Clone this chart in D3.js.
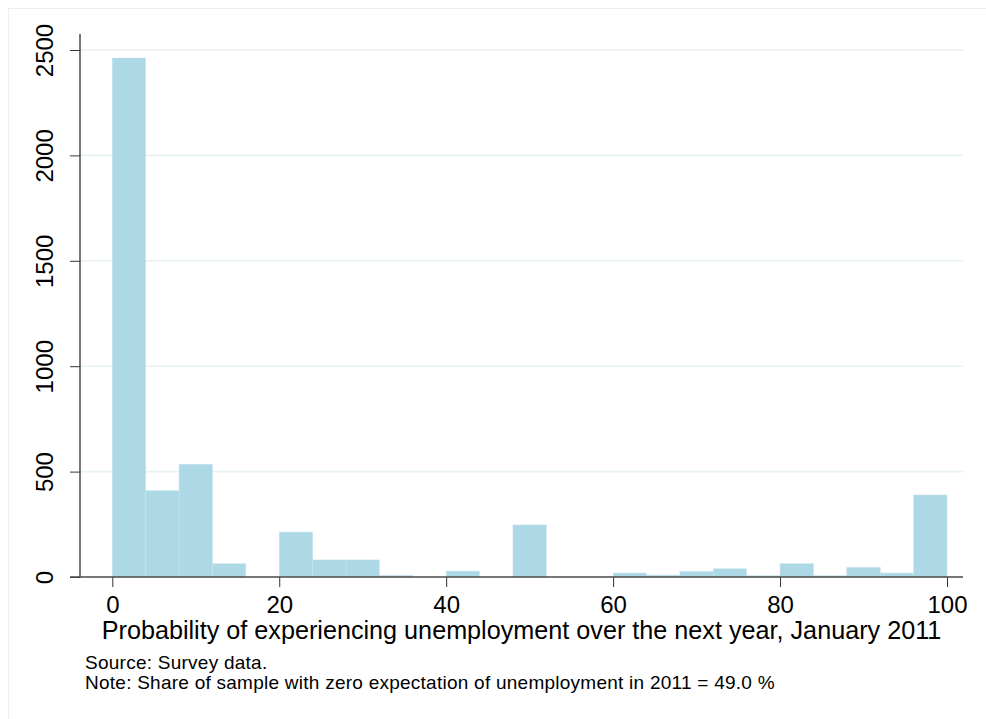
<!DOCTYPE html>
<html>
<head>
<meta charset="utf-8">
<script src="https://cdn.jsdelivr.net/npm/d3@7"></script>
<style>
  html, body { margin: 0; padding: 0; background: #fff; }
  svg { display: block; font-family: "Liberation Sans", Arial, Helvetica, sans-serif; }
</style>
</head>
<body>
<svg id="chart" width="986" height="719"></svg>
<script>
// ---- data ----
const binWidth = 4;
const binStarts = d3.range(0, 100, 4);
const counts = [2462, 410, 535, 63, 0, 213, 81, 81, 8, 0, 28, 0, 247, 0, 0, 19, 9, 26, 39, 6, 63, 6, 46, 19, 389];
const xTicks = [0, 20, 40, 60, 80, 100];
const yTicks = [0, 500, 1000, 1500, 2000, 2500];
const xTitle = "Probability of experiencing unemployment over the next year, January 2011";
const notes = ["Source: Survey data.", "Note: Share of sample with zero expectation of unemployment in 2011 = 49.0 %"];

const svg = d3.select("#chart");

// outer frame
svg.append("rect").attr("x", 8.5).attr("y", 8.5).attr("width", 1000).attr("height", 800)
  .attr("fill", "none").attr("stroke", "#e8f0f2").attr("stroke-width", 1);

const x = d3.scaleLinear().domain([0, 100]).range([112.3, 947]);
const y = d3.scaleLinear().domain([0, 2500]).range([577, 50]);
const plotLeft = 80, plotRight = 963, plotTop = 34;

// gridlines
svg.append("g").selectAll("line").data(yTicks.filter(d => d > 0)).join("line")
  .attr("x1", plotLeft).attr("x2", plotRight)
  .attr("y1", d => y(d)).attr("y2", d => y(d))
  .attr("stroke", "#e8f1f4").attr("stroke-width", 1.6);

// bars
svg.append("g").selectAll("rect").data(binStarts.map((s, i) => ({s, c: counts[i]})).filter(d => d.c > 0)).join("rect")
  .attr("x", d => x(d.s))
  .attr("width", d => x(d.s + binWidth) - x(d.s))
  .attr("y", d => y(d.c))
  .attr("height", d => y(0) - y(d.c))
  .attr("fill", "#add8e6")
  .attr("stroke", "#c6e3ec").attr("stroke-width", 0.5);

// y axis
const yAxis = svg.append("g").attr("transform", `translate(${plotLeft},0)`)
  .call(d3.axisLeft(y).tickValues(yTicks).tickSize(10).tickFormat(d3.format("d")));
yAxis.select(".domain").remove();
yAxis.selectAll(".tick line").attr("stroke", "#333").attr("stroke-width", 1);
yAxis.selectAll(".tick text").remove();
yAxis.selectAll(".tick").append("text")
  .attr("transform", "translate(-27,0) rotate(-90)")
  .attr("text-anchor", "middle")
  .attr("fill", "#000")
  .attr("font-size", 24)
  .attr("font-family", "Liberation Sans, Arial, sans-serif")
  .text(d => d);
svg.append("line").attr("x1", plotLeft).attr("x2", plotLeft).attr("y1", plotTop).attr("y2", y(0))
  .attr("stroke", "#4a4a4a").attr("stroke-width", 1.5);

// x axis
const xAxis = svg.append("g").attr("transform", `translate(0,${y(0)})`)
  .call(d3.axisBottom(x).tickValues(xTicks).tickSize(10).tickFormat(d3.format("d")));
xAxis.select(".domain").remove();
xAxis.selectAll(".tick line").attr("stroke", "#333").attr("stroke-width", 1);
xAxis.selectAll(".tick text").attr("font-size", 24).attr("fill", "#000")
  .attr("font-family", "Liberation Sans, Arial, sans-serif")
  .attr("y", 36).attr("dy", 0);
svg.append("line").attr("x1", 70).attr("x2", plotRight).attr("y1", y(0)).attr("y2", y(0))
  .attr("stroke", "#4a4a4a").attr("stroke-width", 1.5);

// x title
svg.append("text").attr("x", (plotLeft + plotRight) / 2).attr("y", 639)
  .attr("text-anchor", "middle").attr("font-size", 25.2).attr("fill", "#000").text(xTitle);

// notes
svg.append("g").selectAll("text").data(notes).join("text")
  .attr("x", 85).attr("y", (d, i) => 669 + i * 19.5)
  .attr("font-size", 19).attr("letter-spacing", 0.25).attr("fill", "#000").text(d => d);
</script>
</body>
</html>
